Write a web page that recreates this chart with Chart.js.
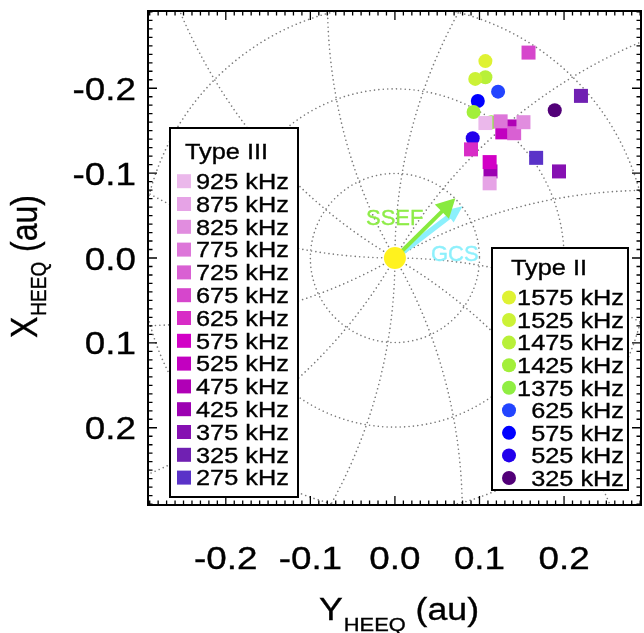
<!DOCTYPE html>
<html>
<head>
<meta charset="utf-8">
<script src="https://cdn.jsdelivr.net/npm/chart.js@4.4.1/dist/chart.umd.min.js"></script>
<style>
  html,body{margin:0;padding:0;background:#fff;overflow:hidden;}
  #wrap{width:644px;height:633px;overflow:hidden;position:relative;}
</style>
</head>
<body>
<div id="wrap"><canvas id="c" width="652" height="633" style="width:652px;height:633px;display:block"></canvas></div>
<script>
// ---------------- DATA ----------------
// Type III (squares) — legend order
const typeIIIFreqs = [925, 875, 825, 775, 725, 675, 625, 575, 525, 475, 425, 375, 325, 275];
const typeIIIY = [0.107, 0.112, 0.152, 0.125, 0.141, 0.158, 0.090, 0.112, 0.127, 0.137, 0.113, 0.194, 0.220, 0.167];
const typeIIIX = [-0.159, -0.088, -0.160, -0.161, -0.147, -0.242, -0.128, -0.113, -0.148, -0.155, -0.102, -0.102, -0.191, -0.118];
const typeIIIColors = ['#ebb8eb', '#e6a3e6', '#e18ddf', '#dd76d9', '#d960d3', '#d646cc', '#d82cc6', '#d200c6', '#c200c0', '#b000b6', '#9c00b2', '#8610b2', '#7020b2', '#5a32c8'];

// Type II (circles) — legend order
const typeIIFreqs = [1575, 1525, 1475, 1425, 1375, 625, 575, 525, 325];
const typeIIY = [0.107, 0.095, 0.107, 0.093, 0.114, 0.122, 0.098, 0.092, 0.189];
const typeIIX = [-0.232, -0.211, -0.213, -0.172, -0.160, -0.196, -0.185, -0.141, -0.174];
const typeIIColors = ['#dff233', '#ccf236', '#b8f038', '#a2ef3a', '#90ee42', '#2244ff', '#0000ff', '#2200ec', '#520078'];

// Directions (Y, X) of the SSEF and GCS arrows
const ssefTip = [0.0715, -0.0705];
const gcsTip = [0.080, -0.061];

// Axis ticks
const tickValues = [-0.2, -0.1, 0.0, 0.1, 0.2];
const tickLabels = ['-0.2', '-0.1', '0.0', '0.1', '0.2'];
const circleRadii = [0.1, 0.2, 0.3];
const spiralAnglesDeg = [0, 30, 60, 90, 120, 150, 180, 210, 240, 270, 300, 330];
const spiralWind = 0.85; // rad per au

// ---------------- HELPERS ----------------
const FONT = '"Liberation Sans", Arial, Helvetica, sans-serif';
const SX = 1.15;
function sText(ctx, txt, x, y, size, align, color, sx) {
  sx = sx || SX;
  ctx.save();
  ctx.font = size + 'px ' + FONT;
  ctx.fillStyle = color || '#000';
  ctx.strokeStyle = color || '#000';
  ctx.lineWidth = 0.35;
  ctx.textBaseline = 'alphabetic';
  ctx.textAlign = 'left';
  const w = ctx.measureText(txt).width * sx;
  let x0 = x;
  if (align === 'right') x0 = x - w;
  else if (align === 'center') x0 = x - w / 2;
  ctx.translate(x0, y);
  ctx.scale(sx, 1);
  ctx.fillText(txt, 0, 0);
  ctx.strokeText(txt, 0, 0);
  ctx.restore();
  return w;
}
function arrow(ctx, x0, y0, x1, y1, color, shaftW, headL, headW) {
  const ang = Math.atan2(y1 - y0, x1 - x0);
  const bx = x1 - headL * Math.cos(ang), by = y1 - headL * Math.sin(ang);
  ctx.save();
  ctx.strokeStyle = color; ctx.fillStyle = color;
  ctx.lineWidth = shaftW; ctx.lineCap = 'butt';
  ctx.beginPath(); ctx.moveTo(x0, y0); ctx.lineTo(bx + 2 * Math.cos(ang), by + 2 * Math.sin(ang)); ctx.stroke();
  const px = -Math.sin(ang), py = Math.cos(ang);
  ctx.beginPath();
  ctx.moveTo(x1, y1);
  ctx.lineTo(bx + px * headW, by + py * headW);
  ctx.lineTo(bx - px * headW, by - py * headW);
  ctx.closePath(); ctx.fill();
  ctx.restore();
}

// ---------------- PLUGINS ----------------
const gridPlugin = {
  id: 'polarGrid',
  beforeDatasetsDraw(chart) {
    const ctx = chart.ctx, a = chart.chartArea;
    const xs = chart.scales.x, ys = chart.scales.y;
    ctx.save();
    ctx.beginPath(); ctx.rect(a.left, a.top, a.right - a.left, a.bottom - a.top); ctx.clip();
    ctx.strokeStyle = '#7a7a7a';
    ctx.lineWidth = 1.6;
    ctx.lineCap = 'round';
    ctx.setLineDash([0.01, 4.4]);
    const cx = xs.getPixelForValue(0), cy = ys.getPixelForValue(0);
    circleRadii.forEach(r => {
      const rp = xs.getPixelForValue(r) - cx;
      ctx.beginPath(); ctx.arc(cx, cy, rp, 0, Math.PI * 2); ctx.stroke();
    });
    spiralAnglesDeg.forEach(d => {
      const p0 = d * Math.PI / 180;
      ctx.beginPath();
      for (let i = 0; i <= 120; i++) {
        const r = i * 0.005;
        const ph = p0 - spiralWind * r;
        const X = r * Math.cos(ph), Y = r * Math.sin(ph);
        const px = xs.getPixelForValue(Y), py = ys.getPixelForValue(X);
        if (i === 0) ctx.moveTo(px, py); else ctx.lineTo(px, py);
      }
      ctx.stroke();
    });
    ctx.restore();

    // arrows
    const gx = xs.getPixelForValue(gcsTip[0]), gy = ys.getPixelForValue(gcsTip[1]);
    const sx = xs.getPixelForValue(ssefTip[0]), sy = ys.getPixelForValue(ssefTip[1]);
    arrow(ctx, cx, cy, gx, gy, '#8cf0fc', 5.5, 17, 7.5);
    arrow(ctx, cx, cy, sx, sy, '#88ea3e', 4, 19, 10);
    sText(ctx, 'SSEF', 366, 225, 22, 'left', '#8eec48', 1.0);
    sText(ctx, 'GCS', 431, 261, 22, 'left', '#8ef0fc', 1.0);
  },
  afterDatasetsDraw(chart) {
    const ctx = chart.ctx;
    ctx.save();
    ctx.fillStyle = '#fff'; ctx.strokeStyle = '#000'; ctx.lineWidth = 2;
    ctx.fillRect(170, 128, 128, 369); ctx.strokeRect(170, 128, 128, 369);
    ctx.fillRect(492, 248, 136, 242); ctx.strokeRect(492, 248, 136, 242);
    ctx.restore();
    sText(ctx, 'Type III', 185, 158.5, 22, 'left', '#000');
    typeIIIFreqs.forEach((f, i) => {
      const cy = 181.2 + i * 22.8;
      ctx.fillStyle = typeIIIColors[i];
      ctx.fillRect(177, cy - 7, 14, 14);
      sText(ctx, f + ' kHz', 196, cy + 7.8, 22, 'left', '#000');
    });
    sText(ctx, 'Type II', 511, 275, 22, 'left', '#000');
    typeIIFreqs.forEach((f, i) => {
      const cy = 297.5 + i * 22.56;
      ctx.fillStyle = typeIIColors[i];
      ctx.beginPath(); ctx.arc(509, cy, 7, 0, Math.PI * 2); ctx.fill();
      sText(ctx, f + ' kHz', 624, cy + 7.8, 22, 'right', '#000');
    });
  },
  afterDraw(chart) {
    const ctx = chart.ctx, a = chart.chartArea;
    const xs = chart.scales.x, ys = chart.scales.y;
    ctx.save();
    ctx.strokeStyle = '#000';
    ctx.lineWidth = 1.3;
    ctx.beginPath();
    for (let k = -29; k <= 29; k++) {
      const v = k / 100;
      const major = (k % 10 === 0);
      const L = major ? 9 : 4.5;
      const px = xs.getPixelForValue(v);
      if (px >= a.left && px <= a.right) {
        ctx.moveTo(px, a.bottom); ctx.lineTo(px, a.bottom - L);
        ctx.moveTo(px, a.top); ctx.lineTo(px, a.top + L);
      }
      const py = ys.getPixelForValue(v);
      if (py >= a.top && py <= a.bottom) {
        ctx.moveTo(a.left, py); ctx.lineTo(a.left + L, py);
        ctx.moveTo(a.right, py); ctx.lineTo(a.right - L, py);
      }
    }
    ctx.stroke();
    ctx.lineWidth = 2;
    ctx.strokeRect(a.left, a.top, a.right - a.left, a.bottom - a.top);
    ctx.restore();
    tickValues.forEach((v, i) => {
      sText(ctx, tickLabels[i], xs.getPixelForValue(v), 569, 32, 'center', '#000');
      sText(ctx, tickLabels[i], 136, ys.getPixelForValue(v) + 11.5, 32, 'right', '#000');
    });
    // x-axis title: Y_HEEQ (au)
    let x = 319;
    x += sText(ctx, 'Y', x, 620, 31, 'left', '#000');
    x += sText(ctx, 'HEEQ', x + 1, 631, 19, 'left', '#000') + 1;
    sText(ctx, ' (au)', x, 620, 31, 'left', '#000');
    // y-axis title: X_HEEQ (au), rotated
    ctx.save();
    ctx.translate(37, 338);
    ctx.rotate(-Math.PI / 2);
    ctx.scale(1, SX);
    ctx.fillStyle = '#000';
    ctx.strokeStyle = '#000';
    ctx.lineWidth = 0.35;
    ctx.textBaseline = 'alphabetic';
    ctx.textAlign = 'left';
    ctx.font = '32px ' + FONT;
    let t = 0;
    ctx.fillText('X', t, 0); ctx.strokeText('X', t, 0); t += ctx.measureText('X').width;
    ctx.font = '19px ' + FONT;
    ctx.fillText('HEEQ', t + 1, 8); ctx.strokeText('HEEQ', t + 1, 8); t += ctx.measureText('HEEQ').width + 2;
    ctx.font = '32px ' + FONT;
    ctx.fillText(' (au)', t, 0); ctx.strokeText(' (au)', t, 0);
    ctx.restore();
  }
};

// ---------------- CHART ----------------
const t3 = typeIIIFreqs.map((f, i) => ({ x: typeIIIY[i], y: typeIIIX[i] })).reverse();
const t3c = typeIIIColors.slice().reverse();
const t2 = typeIIFreqs.map((f, i) => ({ x: typeIIY[i], y: typeIIX[i] })).reverse();
const t2c = typeIIColors.slice().reverse();

new Chart(document.getElementById('c'), {
  type: 'scatter',
  data: {
    datasets: [
      { label: 'Type III', data: t3, pointStyle: 'rect', pointRadius: 9.9, pointHoverRadius: 9.9,
        backgroundColor: t3c, borderColor: t3c, borderWidth: 0 },
      { label: 'Type II', data: t2, pointStyle: 'circle', pointRadius: 7, pointHoverRadius: 7,
        backgroundColor: t2c, borderColor: t2c, borderWidth: 0 },
      { label: 'Sun', data: [{ x: 0, y: 0 }], pointStyle: 'circle', pointRadius: 11, pointHoverRadius: 11,
        backgroundColor: '#fff21e', borderColor: '#fff21e', borderWidth: 0 }
    ]
  },
  options: {
    responsive: false,
    animation: false,
    devicePixelRatio: 1,
    layout: { padding: { top: 9, right: 7, left: 0, bottom: 0 } },
    plugins: { legend: { display: false }, tooltip: { enabled: false } },
    events: [],
    scales: {
      x: { type: 'linear', min: -0.292, max: 0.291,
           ticks: { display: false }, grid: { display: false }, border: { display: false },
           afterFit(s) { s.height = 128; } },
      y: { type: 'linear', reverse: true, min: -0.291, max: 0.291,
           ticks: { display: false }, grid: { display: false }, border: { display: false },
           afterFit(s) { s.width = 148; } }
    }
  },
  plugins: [gridPlugin]
});
</script>
</body>
</html>
